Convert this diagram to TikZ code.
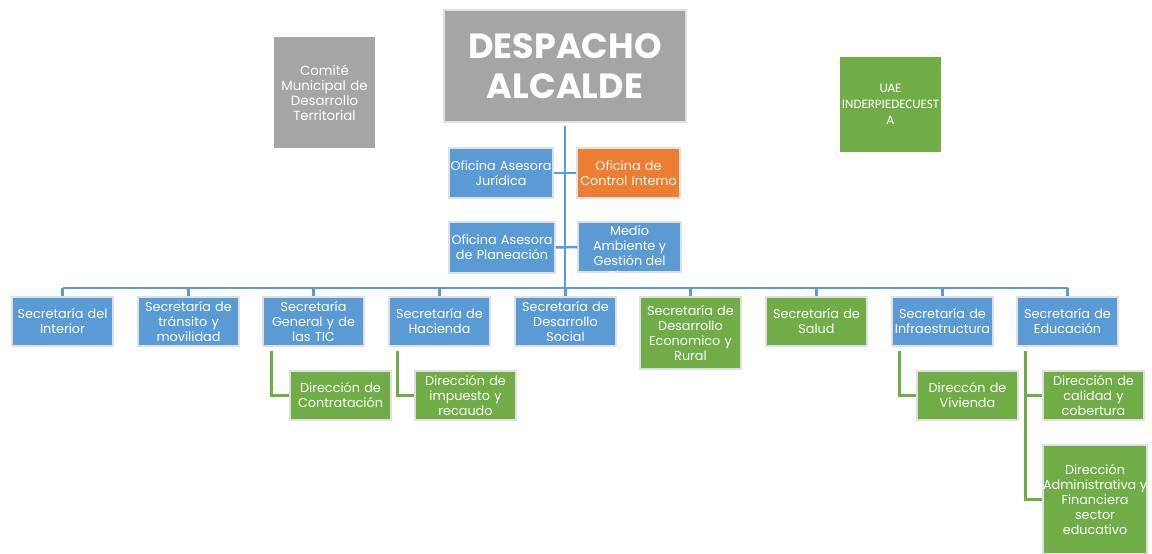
\documentclass[tikz,border=0pt]{standalone}
\usepackage{fontspec}
\setmainfont{Poppins}
\newfontfamily\calib{Carlito}
\definecolor{cblue}{HTML}{5B9BD5}
\definecolor{corange}{HTML}{ED7D31}
\definecolor{cgreen}{HTML}{70AD47}
\definecolor{cgray}{HTML}{A5A5A5}
\begin{document}
\begin{tikzpicture}[x=1pt,y=-1pt,
  orgbox/.style={rectangle,draw=black!12,line width=1.5pt,text=white,align=center,
    inner sep=0pt,font=\fontsize{12.8}{15}\selectfont},
  bluebox/.style={orgbox,fill=cblue},
  greenbox/.style={orgbox,fill=cgreen},
  wide/.style={minimum width=101pt,minimum height=49pt,text width=101pt},
  blueline/.style={draw=cblue,line width=2.5pt},
  greenline/.style={draw=cgreen,line width=2.5pt}]
\useasboundingbox (0,0) rectangle (1152,554);
% top
\node[orgbox,fill=cgray,minimum width=242pt,minimum height=112pt,text width=240pt,
  font=\fontsize{35}{40}\selectfont\bfseries] (despacho) at (565,66) {DESPACHO\\ALCALDE};
\node[orgbox,fill=cgray,draw=none,minimum width=101pt,minimum height=111pt,text width=101pt,
  font=\fontsize{13.3}{15}\selectfont] (comite) at (324.5,92.5) {Comité\\Municipal de\\Desarrollo\\Territorial};
\node[greenbox,draw=none,minimum width=101pt,minimum height=95pt,text width=101pt,
  font=\calib\fontsize{13}{16}\selectfont] (uae) at (890.5,104.5) {UAE\\INDERPIEDECUEST\\A};
% staff offices
\node[bluebox,minimum width=104pt,minimum height=50pt,text width=104pt] (jur) at (501,173) {Oficina Asesora\\Jurídica};
\node[orgbox,fill=corange,minimum width=103pt,minimum height=50pt,text width=103pt] (control) at (628.5,173) {Oficina de\\Control Interno};
\node[bluebox,minimum width=106pt,minimum height=51pt,text width=106pt] (plan) at (502,247.5) {Oficina Asesora\\de Planeación};
\node[bluebox,minimum width=103pt,minimum height=50pt] (medio) at (629.5,247) {};
\node[text=white,align=center,inner sep=0pt,font=\fontsize{12.8}{15}\selectfont] (mediotext) at (medio.center) {Oficina de\\Medio\\Ambiente y\\Gestión del\\Riesgo};
% secretarias
\node[bluebox,wide] (s1) at (62.5,321.5) {Secretaría del\\Interior};
\node[bluebox,wide] (s2) at (188.5,321.5) {Secretaría de\\tránsito  y\\movilidad};
\node[bluebox,wide] (s3) at (313.5,321.5) {Secretaría\\General y de\\las TIC};
\node[bluebox,wide] (s4) at (439.5,321.5) {Secretaría de\\Hacienda};
\node[bluebox,wide] (s5) at (565.5,321.5) {Secretaría de\\Desarrollo\\Social};
\node[greenbox,wide,minimum height=72pt] (s6) at (690.5,333) {Secretaría de\\Desarrollo\\Economico y\\Rural};
\node[greenbox,wide] (s7) at (816.5,321.5) {Secretaría de\\Salud};
\node[bluebox,wide] (s8) at (942.5,321.5) {Secretaría de\\Infraestructura};
\node[bluebox,wide] (s9) at (1067.5,321.5) {Secretaría de\\Educación};
% direcciones
\node[greenbox,wide] (d1) at (340.5,395.5) {Dirección de\\Contratación};
\node[greenbox,wide] (d2) at (465.5,395.5) {Dirección de\\impuesto y\\recaudo};
\node[greenbox,wide] (d3) at (967.5,395.5) {Direccón de\\Vivienda};
\node[greenbox,wide] (d4) at (1093.5,395.5) {Dirección de\\calidad y\\cobertura};
\node[greenbox,minimum width=104pt,minimum height=109pt] (d5) at (1095,499.5) {};
\node[text=white,align=center,inner sep=0pt,font=\fontsize{12.8}{15}\selectfont] (d5text) at (d5.center) {Dirección\\Administrativa y\\Financiera\\sector\\educativo};
% connectors
\coordinate (bus) at (565,288);
\draw[blueline] ([yshift=-3pt]despacho.south) -- (bus);
\draw[blueline] (jur.east) -- (control.west);
\draw[blueline] (plan.east) -- (medio.west);
\draw[blueline] (s1.north |- bus) -- (s9.north |- bus);
\foreach \i in {1,...,9}{\draw[blueline] (s\i.north) -- (s\i.north |- bus);}
\draw[greenline] ([xshift=9pt,yshift=-4pt]s3.south west) |- (d1.west);
\draw[greenline] ([xshift=9pt,yshift=-4pt]s4.south west) |- (d2.west);
\draw[greenline] ([xshift=8pt,yshift=-4pt]s8.south west) |- (d3.west);
\draw[greenline] ([xshift=9pt,yshift=-4pt]s9.south west) |- (d4.west);
\draw[greenline] ([xshift=9pt,yshift=-4pt]s9.south west) |- (d5.west);
\end{tikzpicture}
\end{document}
